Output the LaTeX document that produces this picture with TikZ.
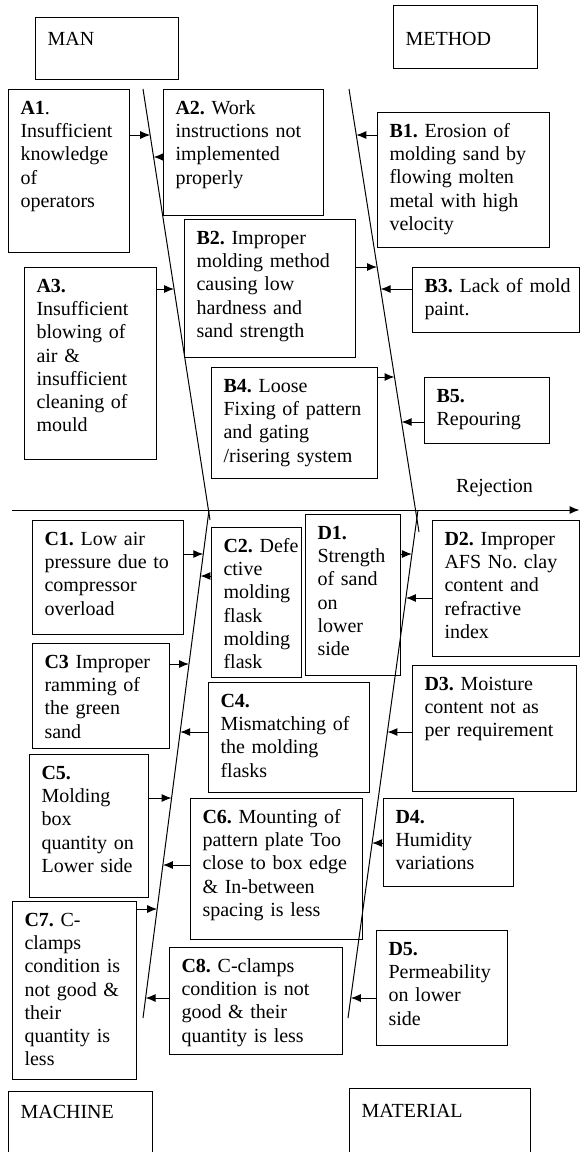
\documentclass[tikz,border=0pt]{standalone}
\usepackage{fontspec}
\setmainfont{Liberation Serif}
\usetikzlibrary{arrows.meta}

\begin{document}
\begin{tikzpicture}[x=1pt, y=-1pt, >={Latex[length=10pt,width=8pt]},
    cause/.style={draw, line width=1.1pt, anchor=north west, align=left,
                  inner xsep=12pt, inner ysep=0pt, text height=25pt,
                  font=\fontsize{20}{23.2}\selectfont},
    bone/.style={line width=1pt},
    feed/.style={->, line width=1pt}]
    \useasboundingbox (0,0) rectangle (580,1152);
    \clip (0,0) rectangle (580,1152);

    \node[cause, text width=119pt, text height=28pt, text depth=34pt] (man) at (35,17) {MAN};
    \node[cause, text width=120pt, text height=40pt, text depth=23pt] (method) at (393,5) {METHOD};
    \node[cause, text width=120pt, text height=27pt, text depth=53pt] (machine) at (8,1091) {MACHINE};
    \node[cause, text width=157pt, text height=29pt, text depth=51pt] (material) at (349,1088) {MATERIAL};

    \node[cause, text width=97pt, text depth=138pt] (a1) at (8,89)
        {\textbf{A1}.\\Insufficient\\knowledge\\of\\operators};
    \node[cause, text width=136pt, text depth=101pt] (a2) at (163,89)
        {\textbf{A2.}~Work\\instructions not\\implemented\\properly};
    \node[cause, text width=108pt, text depth=167pt] (a3) at (24,267)
        {\textbf{A3.}\\Insufficient\\blowing of\\air \&\\insufficient\\cleaning of\\mould};
    \node[cause, text width=148pt, text depth=110pt] (b1) at (377,112)
        {\textbf{B1.}~Erosion of\\molding sand by\\flowing molten\\metal with high\\velocity};
    \node[cause, text width=147pt, text depth=113pt] (b2) at (184,219)
        {\textbf{B2.}~Improper\\molding method\\causing low\\hardness and\\sand strength};
    \node[cause, text width=142.5pt, text depth=40pt] (b3) at (412,267)
        {\mbox{\textbf{B3.}~Lack of mold}\\paint.};
    \node[cause, text width=142pt, text depth=86pt] (b4) at (211,367)
        {\textbf{B4.}~Loose\\Fixing of pattern\\and gating\\/risering system};
    \node[cause, text width=101pt, text depth=41pt] (b5) at (424,377)
        {\textbf{B5.}\\Repouring};

    \node[cause, text width=127pt, text depth=89pt] (c1) at (32,520)
        {\textbf{C1.}~Low air\\pressure due to\\compressor\\overload};
    \node[cause, text width=66pt, text depth=125pt] (c2) at (211,527)
        {\textbf{C2.}~Defe\\ctive\\molding\\flask\\molding\\flask};
    \node[cause, text width=113pt, text depth=80pt] (c3) at (32,643)
        {\textbf{C3}~Improper\\ramming of\\the green\\sand};
    \node[cause, text width=137pt, text depth=85pt] (c4) at (208,682)
        {\textbf{C4.}\\Mismatching of\\the molding\\flasks};
    \node[cause, text width=95pt, text depth=118pt] (c5) at (29,754)
        {\textbf{C5.}\\Molding\\box\\quantity on\\Lower side};
    \node[cause, text width=148pt, text depth=116pt] (c6) at (190,798)
        {\textbf{C6.}~Mounting of\\pattern plate Too\\close to box edge\\\& In-between\\spacing is less};
    \node[cause, text width=100pt, text depth=153pt] (c7) at (12,901)
        {\textbf{C7.}~C-\\clamps\\condition is\\not good \&\\their\\quantity is\\less};
    \node[cause, text width=149pt, text depth=82pt] (c8) at (169,947)
        {\textbf{C8.}~C-clamps\\condition is not\\good \& their\\quantity is less};

    \node[cause, text width=71pt, text depth=136pt] (d1) at (305,514)
        {\textbf{D1.}\\Strength\\of sand\\on\\lower\\side};
    \node[cause, text width=122.5pt, text depth=111pt] (d2) at (432,520)
        {\textbf{D2.}~Improper\\AFS No.\ clay\\content and\\refractive\\index};
    \node[cause, text width=140pt, text depth=101pt] (d3) at (412,665)
        {\textbf{D3.}~Moisture\\content not as\\per requirement};
    \node[cause, text width=106pt, text depth=63pt] (d4) at (383,798)
        {\textbf{D4.}\\Humidity\\variations};
    \node[cause, text width=107pt, text depth=90pt] (d5) at (376,930)
        {\textbf{D5.}\\Permeability\\on lower\\side};

    \node[font=\fontsize{20}{23.2}\selectfont, anchor=base west, inner sep=0pt] (rej) at (456,492) {Rejection};

    \coordinate (spineL) at (12,510);
    \coordinate (spineR) at (579.5,510);
    \coordinate (manT) at (143,89);
    \coordinate (manB) at (210,520);
    \coordinate (methodT) at (349,89);
    \coordinate (methodB) at (419,532);
    \coordinate (machineT) at (209,510);
    \coordinate (machineB) at (143,1018);
    \coordinate (materialT) at (418,510);
    \coordinate (materialB) at (348,1018);

    \draw[feed] (spineL) -- (spineR);
    \draw[bone] (manT) -- (manB);
    \draw[bone] (methodT) -- (methodB);
    \draw[bone] (machineT) -- (machineB);
    \draw[bone] (materialT) -- (materialB);

    \coordinate (a1p) at (150.2,135);
    \coordinate (a2p) at (153.6,157);
    \coordinate (a3p) at (174.1,289);
    \coordinate (b1p) at (356.3,135);
    \coordinate (b2p) at (377.1,267);
    \coordinate (b3p) at (380.6,289);
    \coordinate (b4p) at (394.5,377);
    \coordinate (b5p) at (401.6,422);
    \coordinate (c1p) at (203.3,554);
    \coordinate (c2p) at (200.4,576);
    \coordinate (c3p) at (189.0,664);
    \coordinate (c4p) at (180.2,732);
    \coordinate (c5p) at (171.6,798);
    \coordinate (c6p) at (162.9,865);
    \coordinate (c7p) at (157.2,909);
    \coordinate (c8p) at (145.6,998);
    \coordinate (d1p) at (411.9,554);
    \coordinate (d2p) at (405.9,598);
    \coordinate (d3p) at (387.4,732);
    \coordinate (d4p) at (372.1,843);
    \coordinate (d5p) at (350.8,998);

    \draw[feed] (a1p -| a1.east) -- (a1p);
    \draw[feed] (a2p -| a2.west) -- (a2p);
    \draw[feed] (a3p -| a3.east) -- (a3p);
    \draw[feed] (b1p -| b1.west) -- (b1p);
    \draw[feed] (b2p -| b2.east) -- (b2p);
    \draw[feed] (b3p -| b3.west) -- (b3p);
    \draw[feed] (b4p -| b4.east) -- (b4p);
    \draw[feed] (b5p -| b5.west) -- (b5p);
    \draw[feed] (c1p -| c1.east) -- (c1p);
    \draw[feed] (c2p -| c2.west) -- (c2p);
    \draw[feed] (c3p -| c3.east) -- (c3p);
    \draw[feed] (c4p -| c4.west) -- (c4p);
    \draw[feed] (c5p -| c5.east) -- (c5p);
    \draw[feed] (c6p -| c6.west) -- (c6p);
    \draw[feed] (c7p -| c7.east) -- (c7p);
    \draw[feed] (c8p -| c8.west) -- (c8p);
    \draw[feed] (d1p -| d1.east) -- (d1p);
    \draw[feed] (d2p -| d2.west) -- (d2p);
    \draw[feed] (d3p -| d3.west) -- (d3p);
    \draw[feed] (d4p -| d4.west) -- (d4p);
    \draw[feed] (d5p -| d5.west) -- (d5p);
\end{tikzpicture}
\end{document}
